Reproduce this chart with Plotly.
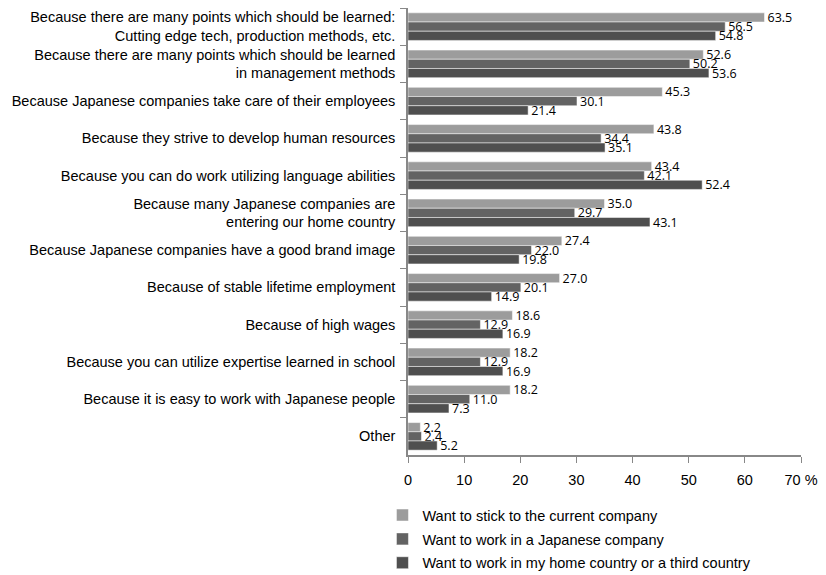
import plotly.graph_objects as go

categories = [
    "Because there are many points which should be learned:<br>Cutting edge tech, production methods, etc.",
    "Because there are many points which should be learned<br>in management methods",
    "Because Japanese companies take care of their employees",
    "Because they strive to develop human resources",
    "Because you can do work utilizing language abilities",
    "Because many Japanese companies are<br>entering our home country",
    "Because Japanese companies have a good brand image",
    "Because of stable lifetime employment",
    "Because of high wages",
    "Because you can utilize expertise learned in school",
    "Because it is easy to work with Japanese people",
    "Other",
]
series_names = [
    "Want to stick to the current company",
    "Want to work in a Japanese company",
    "Want to work in my home country or a third country",
]
stick_current = [63.5, 52.6, 45.3, 43.8, 43.4, 35.0, 27.4, 27.0, 18.6, 18.2, 18.2, 2.2]
japanese_company = [56.5, 50.2, 30.1, 34.4, 42.1, 29.7, 22.0, 20.1, 12.9, 12.9, 11.0, 2.4]
home_or_third = [54.8, 53.6, 21.4, 35.1, 52.4, 43.1, 19.8, 14.9, 16.9, 16.9, 7.3, 5.2]
tick_vals = [0, 10, 20, 30, 40, 50, 60, 70]
tick_text = ["0", "10", "20", "30", "40", "50", "60", "70 %"]

colors = ["#9c9c9c", "#636363", "#4f4f4f"]
series = [stick_current, japanese_company, home_or_third]

fig = go.Figure()
for i, (name, vals, col) in enumerate(zip(series_names, series, colors)):
    fig.add_trace(go.Bar(
        y=categories, x=vals, name=name, orientation="h",
        legendgroup=f"g{i}",
        marker=dict(color=col, line=dict(color="#ffffff", width=0.5)),
        text=[f"{v:.1f}" for v in vals], textposition="outside",
        textfont=dict(family="Open Sans, Noto Sans", size=12.5, color="#000000"),
        cliponaxis=False,
    ))

fig.update_layout(
    barmode="group",
    bargap=0.26,
    bargroupgap=0.0,
    width=826, height=575,
    margin=dict(l=408, r=25, t=8, b=120, autoexpand=False),
    plot_bgcolor="#ffffff", paper_bgcolor="#ffffff",
    font=dict(family="Liberation Sans, Arial", size=14.5, color="#000000"),
    showlegend=True,
    legend=dict(orientation="v", x=-0.065, xanchor="left",
                yref="container", y=0.132, yanchor="top",
                font=dict(size=14.5), traceorder="grouped", itemwidth=30,
                tracegroupgap=2),
    uniformtext=dict(minsize=12, mode="show"),
)
fig.update_xaxes(
    range=[0, 70], tickvals=tick_vals, ticktext=tick_text,
    showline=True, linecolor="#888888", linewidth=1.5,
    ticks="outside", tickcolor="#888888", ticklen=6, ticklabelstandoff=5,
    showgrid=False, zeroline=False, tickfont=dict(size=14.5), automargin=False,
)
fig.update_yaxes(
    autorange="reversed", showline=True, linecolor="#888888", linewidth=1.5,
    ticks="outside", tickcolor="#888888", ticklen=6, tickson="boundaries",
    ticklabelstandoff=8, automargin=False,
    showgrid=False, tickfont=dict(size=14.5),
)

fig.write_html("out.html")
